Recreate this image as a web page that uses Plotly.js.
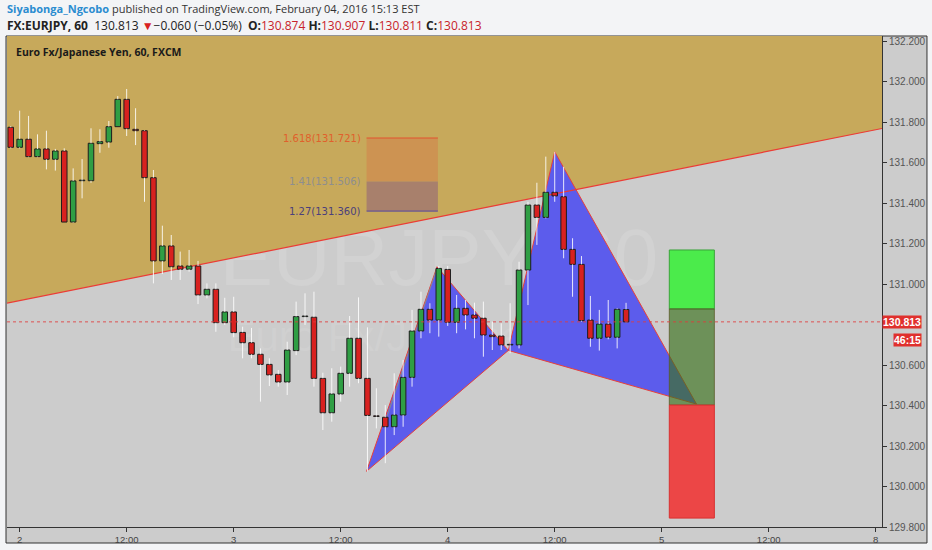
<!DOCTYPE html>
<html>
<head>
<meta charset="utf-8">
<script src="https://cdn.plot.ly/plotly-3.0.1.min.js"></script>
<style>html,body{margin:0;padding:0;background:#f3f4f6;}#chart{width:932px;height:550px;}</style>
</head>
<body>
<div id="chart"></div>
<script>
// ---- candle data (hourly, x = hours since Feb 2 00:00) ----
const hours  = [-1,0,1,2,3,4,5,6,7,8,9,10,11,12,13,14,15,16,17,18,19,20,21,22,23,24,25,26,27,28,29,30,31,32,33,34,35,36,37,38,39,40,41,42,43,44,45,46,47,48,49,50,51,52,53,54,55,56,57,58,59,60,61,62,63,64,65,66,67,68];
const opens  = [131.774,131.675,131.715,131.629,131.667,131.616,131.657,131.306,131.510,131.510,131.693,131.701,131.777,131.912,131.764,131.757,131.525,131.114,131.188,131.089,131.073,131.089,130.946,130.974,130.809,130.862,130.761,130.710,130.653,130.603,130.554,130.516,130.671,130.839,130.836,130.534,130.364,130.457,130.559,130.732,130.534,130.349,130.342,130.295,130.353,130.539,130.768,130.875,130.822,131.072,130.811,130.880,130.847,130.831,130.748,130.743,130.699,130.699,131.069,131.390,131.329,131.453,131.431,131.171,131.097,130.822,130.732,130.802,130.737,130.874];
const highs  = [131.780,131.856,131.830,131.739,131.757,131.667,131.670,131.571,131.617,131.769,131.764,131.805,131.928,131.963,131.868,131.760,131.563,131.288,131.242,131.160,131.168,131.114,131.003,131.003,130.932,130.937,130.789,130.783,130.682,130.633,130.575,130.715,130.913,130.954,130.962,130.562,130.584,130.592,130.842,130.934,130.786,130.485,130.402,130.559,130.625,130.872,130.962,130.905,131.089,131.089,130.946,130.921,130.908,130.913,130.814,130.806,130.905,131.110,131.406,131.500,131.629,131.653,131.579,131.226,131.138,130.941,130.872,130.921,130.880,130.907];
const lows   = [131.670,131.670,131.626,131.626,131.566,131.560,131.306,131.303,131.423,131.500,131.648,131.673,131.777,131.731,131.686,131.406,131.003,131.049,131.020,131.020,131.061,130.901,130.929,130.764,130.798,130.737,130.633,130.633,130.419,130.496,130.493,130.452,130.649,130.798,130.493,130.279,130.320,130.419,130.493,130.510,130.075,130.287,130.115,130.254,130.295,130.493,130.732,130.757,130.740,130.793,130.757,130.776,130.732,130.641,130.674,130.674,130.658,130.682,130.896,131.193,131.324,131.406,131.127,130.937,130.814,130.690,130.671,130.727,130.682,130.811];
const closes = [131.675,131.715,131.629,131.667,131.616,131.657,131.306,131.509,131.512,131.695,131.703,131.777,131.912,131.767,131.757,131.525,131.114,131.188,131.085,131.073,131.089,130.946,130.974,130.809,130.862,130.760,130.710,130.653,130.603,130.551,130.516,130.674,130.839,130.841,130.534,130.364,130.457,130.559,130.732,130.534,130.351,130.346,130.295,130.353,130.539,130.768,130.875,130.822,131.077,130.811,130.880,130.847,130.831,130.748,130.740,130.699,130.701,131.069,131.390,131.329,131.453,131.435,131.171,131.097,130.819,130.732,130.802,130.737,130.875,130.813];

// ---- axes (130.800 is hidden behind the last-price tag in the reference) ----
const xTickVals = [0,12,24,36,48,60,72,84,96];
const xTickText = ['2','12:00','3','12:00','4','12:00','5','12:00','8'];
const yTickVals = [129.8,130.0,130.2,130.4,130.6,131.0,131.2,131.4,131.6,131.8,132.0,132.2];
const yTickText = ['129.800','130.000','130.200','130.400','130.600','131.000','131.200','131.400','131.600','131.800','132.000','132.200'];

// ---- drawings ----
const trendHours  = [-1.42, 96.7];
const trendPrices = [130.906, 131.768];
const patternHours  = [38.9, 46.8, 54.8, 60, 75.9];   // X, A, B, C, D
const patternPrices = [130.075, 131.085, 130.672, 131.653, 130.407];
const guideHours  = [40.8, 46.8];
const guidePrices = [130.294, 131.079];
const fibHours  = [38.9, 46.9];
const fibLevels = ['1.618', '1.41', '1.27'];
const fibPrices = [131.721, 131.506, 131.360];
const posHours  = [72.85, 77.9];
const posPrices = [131.168, 130.877, 130.402, 129.844]; // target, entry, stop, bottom
const lastPrice = 130.813;
const countdown = '46:15';

const X_RANGE = [-1.42, 96.7];
const Y_RANGE = [129.80, 132.2247];

// bodies
const bodyBase = [], bodyLen = [], bodyColor = [];
for (let i = 0; i < hours.length; i++) {
  const o = opens[i], c = closes[i];
  bodyBase.push(Math.min(o, c));
  bodyLen.push(Math.max(Math.abs(c - o), 0.003));
  bodyColor.push(c >= o ? '#2f9e44' : '#d8211f');
}
// wicks (upper and lower parts, so they never cross the bodies)
const wx = [], wy = [];
for (let i = 0; i < hours.length; i++) {
  const top = Math.max(opens[i], closes[i]), bot = Math.min(opens[i], closes[i]);
  wx.push(hours[i], hours[i], null, hours[i], hours[i], null);
  wy.push(highs[i], top, null, bot, lows[i], null);
}

const traces = [
  {type:'scatter', mode:'lines', x:wx, y:wy, line:{color:'rgba(255,255,255,0.85)', width:1}, hoverinfo:'skip', connectgaps:false},
  {type:'bar', x:hours, base:bodyBase, y:bodyLen, width:0.62,
   marker:{color:bodyColor, line:{color:'#1d1d1d', width:1}}, hoverinfo:'skip'}
];

function poly(xs, ys) {
  return 'M' + xs.map((x, i) => x + ',' + ys[i]).join(' L') + ' Z';
}
const P = patternHours, Q = patternPrices;

const shapes = [];
// frame around chart + axis strips
shapes.push({type:'rect', xref:'paper', yref:'paper', x0:-0.00114, x1:1.0514, y0:-0.0326, y1:1.0,
  fillcolor:'#cccccc', line:{color:'#333', width:1}, layer:'below'});
// watermark
shapes.push({type:'rect', xref:'x', yref:'y', x0:30, x1:64, y0:131.12, y1:131.22, line:{width:0}, fillcolor:'rgba(0,0,0,0)', layer:'below',
  label:{text:'EURJPY, 60', textposition:'middle center', font:{family:'Liberation Sans, Arial', size:80, color:'rgba(255,255,255,0.12)'}}});
shapes.push({type:'rect', xref:'x', yref:'y', x0:30, x1:64, y0:130.72, y1:130.80, line:{width:0}, fillcolor:'rgba(0,0,0,0)', layer:'below',
  label:{text:'Euro Fx/Japanese Yen', textposition:'middle center', font:{family:'Liberation Sans, Arial', size:42, color:'rgba(255,255,255,0.09)'}}});
// tan fill above trend line
shapes.push({type:'path', xref:'x', yref:'y', layer:'below',
  path:poly([trendHours[0], trendHours[1], trendHours[1], trendHours[0]], [trendPrices[0], trendPrices[1], Y_RANGE[1]+1, Y_RANGE[1]+1]),
  fillcolor:'#c7a95b', line:{width:0}});
// fib box
shapes.push({type:'rect', xref:'x', yref:'y', layer:'below', x0:fibHours[0], x1:fibHours[1], y0:fibPrices[1], y1:fibPrices[0], fillcolor:'#cd9352', line:{width:0}});
shapes.push({type:'rect', xref:'x', yref:'y', layer:'below', x0:fibHours[0], x1:fibHours[1], y0:fibPrices[2], y1:fibPrices[1], fillcolor:'#a8806c', line:{width:0}});
shapes.push({type:'line', xref:'x', yref:'y', layer:'below', x0:fibHours[0], x1:fibHours[1], y0:fibPrices[0], y1:fibPrices[0], line:{color:'#e2532e', width:1}});
shapes.push({type:'line', xref:'x', yref:'y', layer:'below', x0:fibHours[0], x1:fibHours[1], y0:fibPrices[2], y1:fibPrices[2], line:{color:'#5546a0', width:1}});
// harmonic triangles
shapes.push({type:'path', xref:'x', yref:'y', layer:'below', path:poly([P[0],P[1],P[2]],[Q[0],Q[1],Q[2]]), fillcolor:'#5c5cec', line:{color:'#e8403a', width:1}});
shapes.push({type:'path', xref:'x', yref:'y', layer:'below', path:poly([P[2],P[3],P[4]],[Q[2],Q[3],Q[4]]), fillcolor:'#5c5cec', line:{color:'#e8403a', width:1}});
// trend line
shapes.push({type:'line', xref:'x', yref:'y', layer:'below', x0:trendHours[0], x1:trendHours[1], y0:trendPrices[0], y1:trendPrices[1], line:{color:'#ec3b35', width:1.2}});
// thin gray guide
shapes.push({type:'line', xref:'x', yref:'y', layer:'below', x0:guideHours[0], x1:guideHours[1], y0:guidePrices[0], y1:guidePrices[1], line:{color:'#8a8a8a', width:1}});
// position box
shapes.push({type:'rect', xref:'x', yref:'y', layer:'below', x0:posHours[0], x1:posHours[1], y0:posPrices[1], y1:posPrices[0], fillcolor:'#4beb4b', line:{color:'#3aa33a', width:1}});
shapes.push({type:'rect', xref:'x', yref:'y', layer:'below', x0:posHours[0], x1:posHours[1], y0:posPrices[2], y1:posPrices[1], fillcolor:'rgba(59,113,28,0.65)', line:{color:'rgba(90,90,40,0.8)', width:1}});
shapes.push({type:'rect', xref:'x', yref:'y', layer:'below', x0:posHours[0], x1:posHours[1], y0:posPrices[3], y1:posPrices[2], fillcolor:'#ec4646', line:{color:'#d83030', width:1}});
// current price dotted line
shapes.push({type:'line', xref:'paper', yref:'y', layer:'above', x0:0, x1:1.006, y0:lastPrice, y1:lastPrice, line:{color:'rgba(225,60,60,0.85)', width:1, dash:'dot'}});

const fibColors = ['#e0602c', '#8e8e8e', '#4b3f7c'];
const annotations = [];
for (let i = 0; i < fibLevels.length; i++) {
  annotations.push({xref:'x', yref:'y', x:fibHours[0], y:fibPrices[i], xanchor:'right', yanchor:'middle', xshift:-4, showarrow:false,
    text: fibLevels[i] + '(' + fibPrices[i].toFixed(3) + ')', font:{family:'DejaVu Sans', size:10, color:fibColors[i]}});
}
annotations.push({xref:'paper', yref:'paper', x:-0.0023, y:1.055, xanchor:'left', yanchor:'middle', showarrow:false,
  text:'<span style="color:#2a8cd0"><b>Siyabonga_Ngcobo</b></span> published on TradingView.com, February 04, 2016 15:13 EST',
  font:{family:'Open Sans', size:11, color:'#333'}});
annotations.push({xref:'paper', yref:'paper', x:-0.0023, y:1.0204, xanchor:'left', yanchor:'middle', showarrow:false,
  text:'<b>FX:EURJPY, 60</b>  130.813 <span style="color:#d8211f">▼</span>−0.060 (−0.05%)  <b>O:</b><span style="color:#c8232a">130.874</span> <b>H:</b><span style="color:#c8232a">130.907</span> <b>L:</b><span style="color:#c8232a">130.811</span> <b>C:</b><span style="color:#c8232a">130.813</span>',
  font:{family:'Open Sans', size:12, color:'#222'}});
annotations.push({xref:'paper', yref:'paper', x:0.008, y:0.967, xanchor:'left', yanchor:'middle', showarrow:false,
  text:'<b>Euro Fx/Japanese Yen, 60, FXCM</b>', font:{family:'Open Sans', size:10.5, color:'#1a1a1a'}});
annotations.push({xref:'paper', yref:'y', x:1.0, y:lastPrice, xanchor:'left', yanchor:'middle', showarrow:false,
  text:'<b>' + lastPrice.toFixed(3) + '</b>', bgcolor:'#e0302d', borderpad:0, font:{family:'Liberation Sans', size:10.5, color:'#fff'}});
annotations.push({xref:'paper', yref:'y', x:1.0457, y:130.722, xanchor:'right', yanchor:'middle', showarrow:false,
  text:'<b>' + countdown + '</b>', bgcolor:'#e0302d', borderpad:0, font:{family:'Liberation Sans', size:10.5, color:'#fff'}});

const layout = {
  width:932, height:550,
  margin:{l:7, r:50, t:36, b:23},
  paper_bgcolor:'#f3f4f6', plot_bgcolor:'#cccccc',
  showlegend:false, hovermode:false, dragmode:false,
  xaxis:{range:X_RANGE, tickmode:'array', tickvals:xTickVals, ticktext:xTickText, ticks:'outside', ticklen:4, tickcolor:'#333',
    showgrid:false, zeroline:false, showline:true, linecolor:'#333', linewidth:1,
    tickfont:{family:'Liberation Sans, Arial', size:9.5, color:'#444'}, fixedrange:true},
  yaxis:{range:Y_RANGE, side:'right', tickmode:'array', tickvals:yTickVals, ticktext:yTickText, ticks:'outside', ticklen:4, tickcolor:'#333',
    showgrid:false, zeroline:false, showline:true, linecolor:'#333', linewidth:1,
    tickfont:{family:'Liberation Sans, Arial', size:10, color:'#555'}, fixedrange:true},
  shapes:shapes, annotations:annotations
};

Plotly.newPlot('chart', traces, layout, {displayModeBar:false, staticPlot:true});
</script>
</body>
</html>
